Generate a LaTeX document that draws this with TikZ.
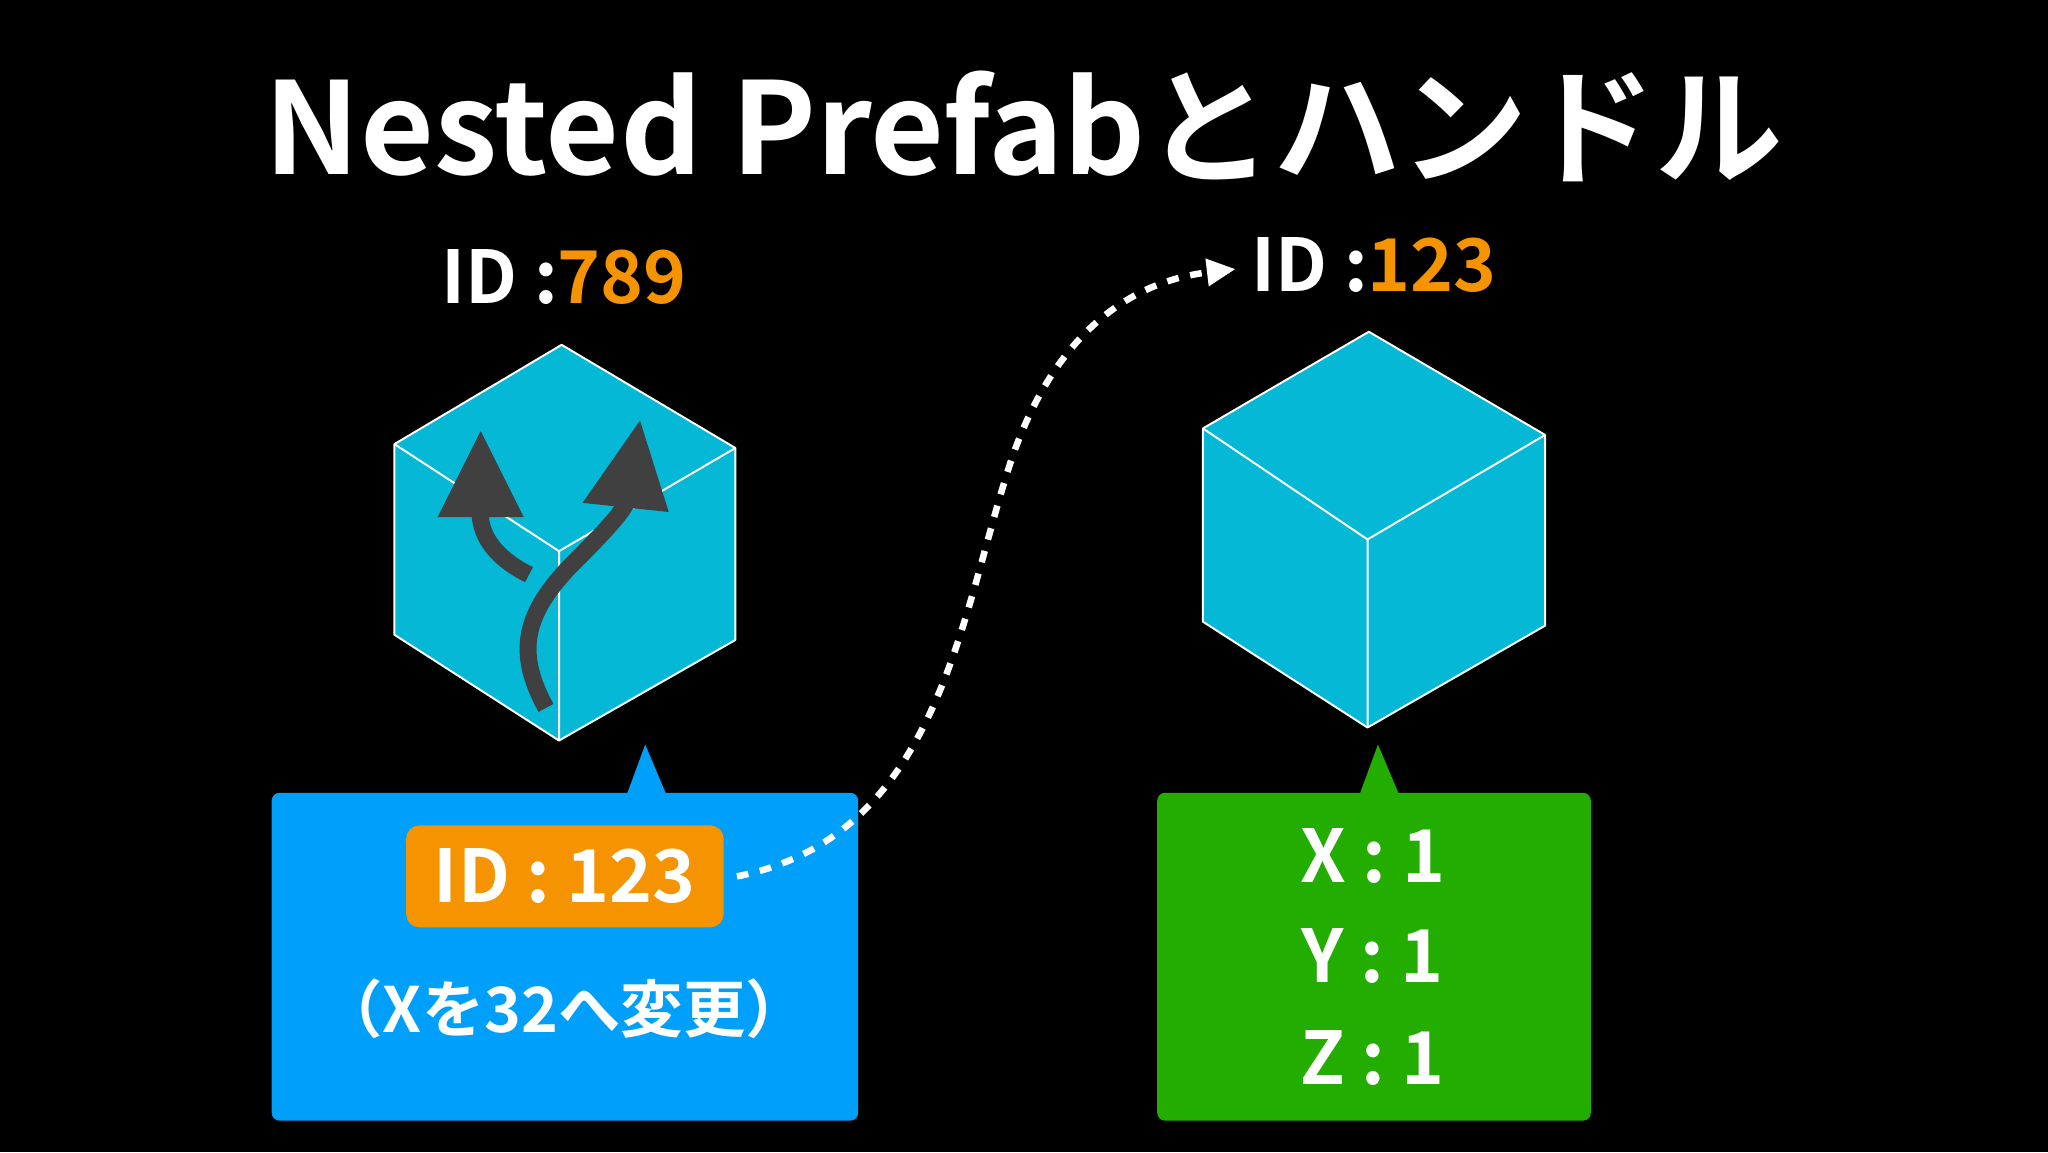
\documentclass[tikz,border=0pt]{standalone}
\usepackage{fontspec}
\setmainfont{Noto Sans CJK JP}[BoldFont={* Bold}]
\usetikzlibrary{arrows.meta}
\definecolor{cyanc}{HTML}{05B9D6}
\definecolor{bluec}{HTML}{00A0FA}
\definecolor{greenc}{HTML}{22AD00}
\definecolor{orangec}{HTML}{F59300}
\definecolor{grayc}{HTML}{404040}
\tikzset{
  cubeface/.style={fill=cyanc,draw=white,line width=1.5bp,line join=round},
  edge/.style={draw=white,line width=1.5bp},
  darrow/.style={draw=grayc,line width=13bp},
  dhead/.style={fill=grayc},
  txt/.style={text=white,font=\bfseries,inner sep=0},
}
\begin{document}
\begin{tikzpicture}[x=1bp,y=-1bp]
\fill[black] (0,0) rectangle (1568,882);
\useasboundingbox (0,0) rectangle (1568,882);
\node[txt,font=\bfseries\fontsize{98}{100}\selectfont] (title) at (784,97) {Nested Prefabとハンドル};
\node[txt,font=\bfseries\fontsize{56}{60}\selectfont] (id789) at (432,212) {ID :\textcolor{orangec}{789}};
\node[txt,font=\bfseries\fontsize{56}{60}\selectfont] (id123) at (1052,203) {ID :\textcolor{orangec}{123}};
% left cube
\path[cubeface] (302,340)--(430,264)--(563,343)--(563,490)--(428,567)--(302,486)--cycle;
\draw[edge] (302,340)--(428,422)--(563,343) (428,422)--(428,567);
% arrows on left cube
\draw[darrow] (405,440) .. controls (375,425) and (365,405) .. (368,385);
\fill[dhead] (368,330)--(335,396)--(401,396)--cycle;
\draw[darrow] (418,542) .. controls (395,500) and (400,470) .. (440,430) .. controls (470,400) and (478,390) .. (482,380);
\fill[dhead] (490,322)--(446,385)--(512,392)--cycle;
% right cube
\path[cubeface] (921,328)--(1048,254)--(1183,333)--(1183,479)--(1047,557)--(921,476)--cycle;
\draw[edge] (921,328)--(1047,413)--(1183,333) (1047,413)--(1047,557);
% blue box
\fill[bluec,rounded corners=6bp] (208,607) rectangle (657,858);
\fill[bluec] (480,608)--(494,570)--(510,608)--cycle;
\node[fill=orangec,rounded corners=10bp,minimum width=243bp,minimum height=78bp,inner sep=0,text=white,font=\bfseries\fontsize{56}{60}\selectfont] (idbox) at (432.5,671) {ID : 123};
\node[txt,font=\bfseries\fontsize{48}{52}\selectfont] (change) at (432,772) {（Xを32へ変更）};
% green box
\fill[greenc,rounded corners=6bp] (886,607) rectangle (1218,858);
\fill[greenc] (1041,608)--(1055,570)--(1071,608)--cycle;
\node[txt,font=\bfseries\fontsize{56}{60}\selectfont] (x) at (1051,655) {X : 1};
\node[txt,font=\bfseries\fontsize{56}{60}\selectfont] (y) at (1051,732) {Y : 1};
\node[txt,font=\bfseries\fontsize{56}{60}\selectfont] (z) at (1051,810) {Z : 1};
% dotted connector
\coordinate (tip) at (946,206);
\draw[white,line width=5bp,dash pattern=on 9bp off 9bp,-{Triangle[length=22bp,width=20bp]}]
  ([xshift=10bp]idbox.east) .. controls (720,640) and (735,470) .. (775,350)
  .. controls (810,250) and (870,215) .. (tip);
\end{tikzpicture}
\end{document}
